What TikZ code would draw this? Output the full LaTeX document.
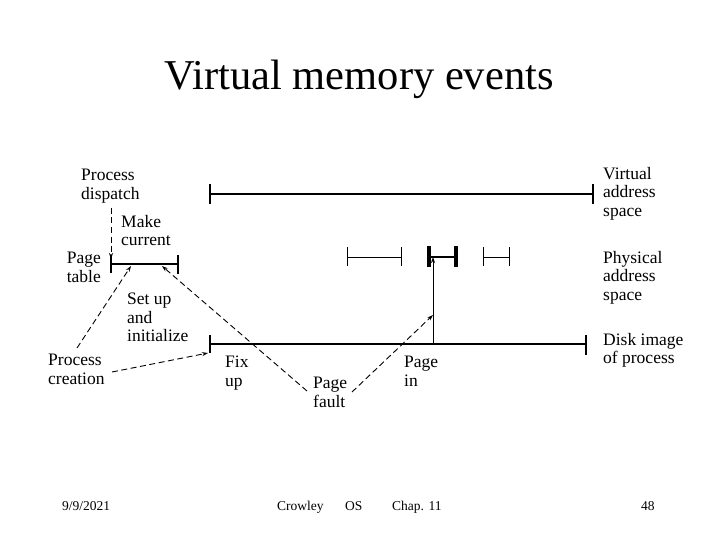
\documentclass[tikz,border=0pt]{standalone}
\usepackage{fontspec}
\setmainfont{Liberation Serif}
\usetikzlibrary{arrows.meta}
\begin{document}
\begin{tikzpicture}[x=1pt,y=-1pt,
  lbl/.style={inner sep=0pt,anchor=north west,align=left,font=\fontsize{17.5}{18.5}\selectfont},
  foot/.style={inner sep=0pt,anchor=base west,font=\fontsize{13.5}{16}\selectfont},
  bar/.style={line width=1.7pt},
  thinbar/.style={line width=1pt},
  thicktick/.style={line width=3.5pt},
  dasharrow/.style={line width=0.9pt,dash pattern=on 6pt off 3.5pt,-{Stealth[length=6pt,width=4pt]}},
  solidarrow/.style={line width=0.9pt,-{Stealth[length=6pt,width=4pt]}}]
\useasboundingbox (0,0) rectangle (720,540);
\fill[white] (0,0) rectangle (720,540);

% title
\node[inner sep=0pt,anchor=base,font=\fontsize{42.5}{48}\selectfont] (title) at (359,90) {Virtual memory events};

% labels
\node[lbl] (dispatch) at (81,169) {Process\\dispatch};
\node[lbl] (make) at (121,215) {Make\\current};
\node[lbl,anchor=north east,align=right] (ptable) at (101,252) {Page\\table};
\node[lbl] (setup) at (127,293) {Set up\\and\\initialize};
\node[lbl] (creation) at (48,354) {Process\\creation};
\node[lbl] (fixup) at (225,356) {Fix\\up};
\node[lbl] (fault) at (313,377) {Page\\fault};
\node[lbl] (pagein) at (404,356) {Page\\in};
\node[lbl] (vas) at (603,167) {Virtual\\address\\space};
\node[lbl] (pas) at (603,251) {Physical\\address\\space};
\node[lbl] (disk) at (603,333) {Disk image\\of process};

% virtual address space line
\coordinate (vL) at (210,194);
\coordinate (vR) at (593,194);
\draw[bar] (vL) -- (vR);
\draw[bar] ([yshift=-10pt]vL) -- ([yshift=10pt]vL);
\draw[bar] ([yshift=-10pt]vR) -- ([yshift=10pt]vR);

% page table line
\coordinate (pL) at (111,264);
\coordinate (pR) at (178,264);
\draw[bar] (pL) -- (pR);
\draw[bar] (111,256) -- (111,273);
\draw[line width=2.6pt] (178,255) -- (178,274);

% disk image line
\coordinate (dL) at (210,344);
\coordinate (dR) at (586,344);
\draw[bar] (dL) -- (dR);
\draw[bar] (210,335) -- (210,353);
\draw[bar] (586,335) -- (586,355);

% physical address space segments
\draw[thinbar] (347,257) -- (401,257);
\draw[thinbar] (347,247) -- (347,266);
\draw[thinbar] (401,247) -- (401,266);
\coordinate (frame) at (433,257);
\draw[bar] (429,257) -- (456,257);
\draw[thicktick] (429,246) -- (429,267);
\draw[thicktick] (456,246) -- (456,267);
\draw[thinbar] (483,257) -- (509,257);
\draw[thinbar] (483,247) -- (483,266);
\draw[thinbar] (509,247) -- (509,266);

% connectors
\coordinate (dispS) at (111,208);
\coordinate (dispE) at (111,259);
\draw[dasharrow] (dispS) -- (dispE);

\coordinate (creA) at (77,348);
\coordinate (creAE) at (131,266);
\draw[dasharrow] (creA) -- (creAE);

\coordinate (creB) at (112,372);
\coordinate (creBE) at (208,353);
\draw[dasharrow] (creB) -- (creBE);

\coordinate (faultA) at (307,391);
\coordinate (faultAE) at (162,266);
\draw[dasharrow] (faultA) -- (faultAE);

\coordinate (faultB) at (352,392);
\coordinate (faultBE) at (433,315);
\draw[dasharrow] (faultB) -- (faultBE);

\coordinate (pinS) at (433,344);
\draw[solidarrow] (pinS) -- (frame);

% footer
\node[foot] (date) at (62,510) {9/9/2021};
\node[foot] (author) at (277,510) {Crowley};
\node[foot] (os) at (345,510) {OS};
\node[foot] (chap) at (392,510) {Chap. 11};
\node[foot] (num) at (641,510) {48};
\end{tikzpicture}
\end{document}
